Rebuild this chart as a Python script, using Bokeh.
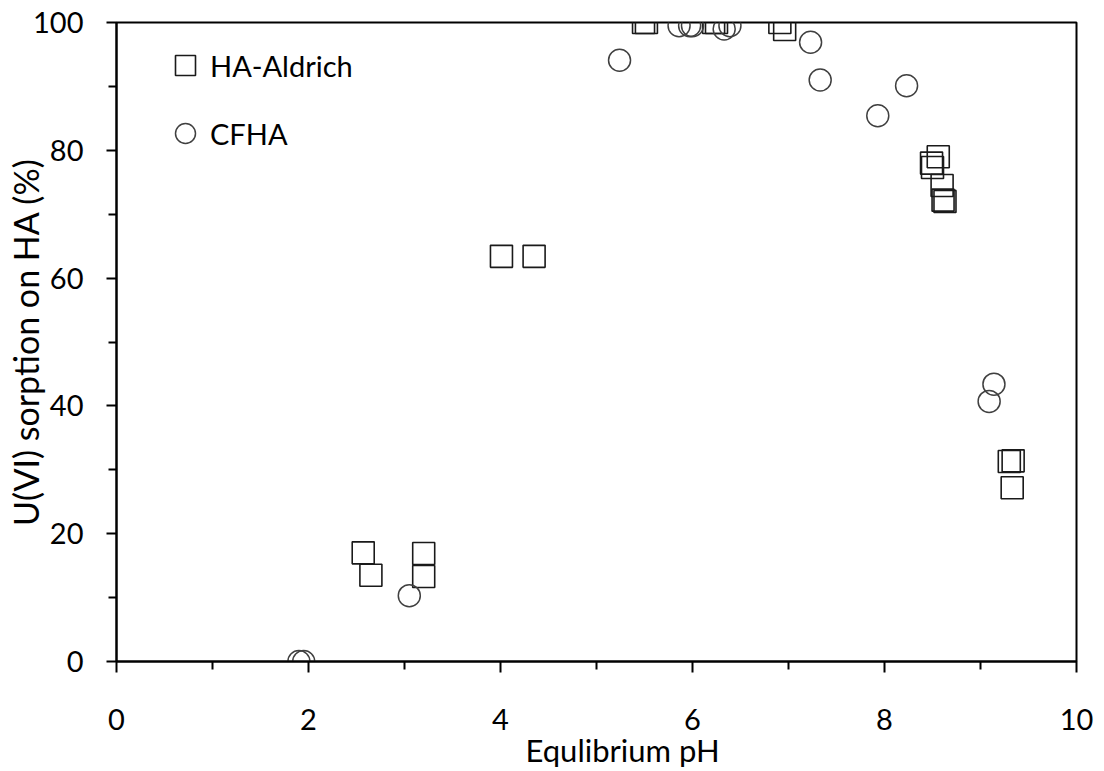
from bokeh.plotting import figure
from bokeh.models import Range1d, FixedTicker, Legend, LegendItem, Title
from bokeh.embed import file_html
from bokeh.resources import INLINE

# HA-Aldrich (squares)
ha_aldrich_ph = [2.57, 2.65, 3.20, 3.20, 4.01, 4.35, 5.49, 5.52, 6.22, 6.25,
                 6.91, 6.96, 8.56, 8.49, 8.50, 8.60, 8.61, 8.63, 9.30, 9.34, 9.33]
ha_aldrich_sorption = [17.0, 13.5, 16.9, 13.3, 63.4, 63.4, 100.0, 100.0, 100.0, 100.0,
                       100.0, 98.9, 79.0, 78.0, 77.3, 74.5, 72.2, 72.0, 31.3, 31.4, 27.2]

# CFHA (circles)
cfha_ph = [1.90, 1.95, 3.05, 5.24, 5.86, 5.97, 6.00, 6.33, 6.39,
           7.23, 7.33, 7.93, 8.23, 9.09, 9.14]
cfha_sorption = [0.0, 0.0, 10.3, 94.1, 99.5, 99.5, 99.5, 99.0, 99.5,
                 96.9, 91.0, 85.4, 90.1, 40.7, 43.4]

x_major = [0, 2, 4, 6, 8, 10]
x_minor = [1, 3, 5, 7, 9]
y_major = [0, 20, 40, 60, 80, 100]
y_minor = [10, 30, 50, 70, 90]

x_title = "Equlibrium pH"
y_title = "U(VI) sorption on HA (%)"

FONT = "Lato"

p = figure(width=1104, height=771, output_backend="svg", toolbar_location=None,
           x_range=Range1d(0, 10), y_range=Range1d(0, 100),
           min_border_left=116, min_border_right=28, min_border_top=22,
           min_border_bottom=110)
p.background_fill_color = "white"
p.border_fill_color = "white"
p.xgrid.visible = False
p.ygrid.visible = False
p.outline_line_color = "black"
p.outline_line_width = 2

p.xaxis.ticker = FixedTicker(ticks=x_major, minor_ticks=x_minor)
p.yaxis.ticker = FixedTicker(ticks=y_major, minor_ticks=y_minor)
for ax in (p.xaxis, p.yaxis):
    ax.axis_line_color = "black"
    ax.axis_line_width = 2
    ax.major_tick_line_color = "black"
    ax.major_tick_line_width = 2
    ax.minor_tick_line_color = "black"
    ax.minor_tick_line_width = 2
    ax.major_tick_in = 0
    ax.minor_tick_in = 0
    ax.major_label_text_font = FONT
    ax.major_label_text_font_size = "29px"
    ax.major_label_text_color = "black"
p.xaxis.major_tick_out = 11
p.xaxis.minor_tick_out = 8
p.yaxis.major_tick_out = 10
p.yaxis.minor_tick_out = 8
p.xaxis.major_label_standoff = 36
p.yaxis.major_label_standoff = 23

p.yaxis.axis_label = y_title
p.yaxis.axis_label_text_font = FONT
p.yaxis.axis_label_text_font_size = "34px"
p.yaxis.axis_label_text_font_style = "normal"
p.yaxis.axis_label_text_color = "black"
p.yaxis.axis_label_standoff = -16

r_sq = p.scatter(x=ha_aldrich_ph, y=ha_aldrich_sorption, marker="square", size=22,
                 fill_color=None, line_color="#1a1a1a", line_width=1.6)
r_ci = p.scatter(x=cfha_ph, y=cfha_sorption, marker="circle", size=22,
                 fill_color=None, line_color="#404040", line_width=1.5)

legend = Legend(items=[LegendItem(label="HA-Aldrich", renderers=[r_sq]),
                       LegendItem(label="CFHA", renderers=[r_ci])],
                location=(44, 503), padding=0, margin=0, spacing=18,
                glyph_width=50, glyph_height=50, label_standoff=0,
                border_line_color=None, background_fill_alpha=0,
                label_text_font=FONT, label_text_font_size="29px",
                label_text_color="black")
p.add_layout(legend)

xt = Title(text=x_title, align="left", offset=409, standoff=-8,
           text_font=FONT, text_font_size="31px", text_font_style="normal",
           text_color="black")
p.add_layout(xt, "below")

open("out.html", "w").write(file_html(p, INLINE))
